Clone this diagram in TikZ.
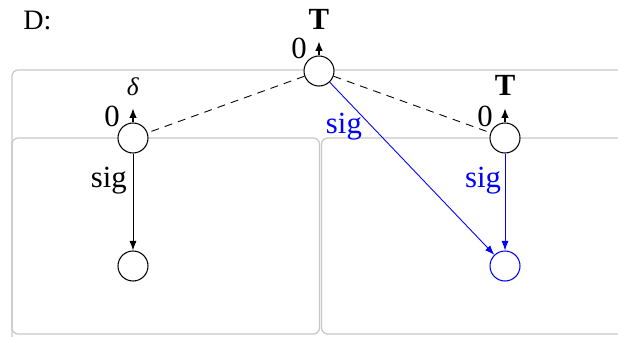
\documentclass[tikz,border=0pt]{standalone}
\usepackage{fontspec}
\setmainfont{Liberation Serif}
\usetikzlibrary{arrows.meta,positioning}
\tikzset{
  state/.style={circle,draw,fill=white,minimum size=0.6cm,inner sep=0pt,line width=0.6pt},
  frame/.style={draw=black!22,line width=0.7pt,rounded corners=3.5pt},
  tran/.style={-{Latex[length=1.9mm,width=1.4mm]},line width=0.5pt},
  stub/.style={-{Latex[length=1.9mm,width=1.5mm]},line width=0.6pt},
  link/.style={dashed,dash pattern=on 4.5pt off 3.5pt,line width=0.5pt},
  bigtext/.style={font=\fontsize{17.5}{21}\selectfont},
  smalltext/.style={font=\fontsize{14.5}{17}\selectfont},
}
\begin{document}
\begin{tikzpicture}[x=1cm,y=1cm]
\useasboundingbox (0,0) rectangle (12.36,6.72);
% frames
\begin{scope}
\clip (0,0) rectangle (12.36,6.72);
\draw[frame] (0.24,-1) rectangle (13.5,5.32);
\draw[frame] (0.24,0.04) rectangle (6.39,3.96);
\draw[frame] (6.43,0.04) rectangle (13.5,3.96);
\end{scope}
\node[font=\fontsize{16}{19}\selectfont,anchor=base west,inner sep=0pt] (dlbl) at (0.46,6.14) {D:};
% states
\node[state] (top) at (6.38,5.30) {};
\node[state] (left) at (2.66,3.96) {};
\node[state] (right) at (10.10,3.96) {};
\node[state] (botl) at (2.66,1.40) {};
\node[state,draw=blue] (botr) at (10.10,1.40) {};
% stubs with labels
\draw[stub] (top.north) -- ++(0,0.28) node[bigtext,anchor=base,yshift=0.24cm] (topt) {\textbf{T}};
\draw[stub] (left.north) -- ++(0,0.28) node[smalltext,anchor=base,yshift=0.26cm] (leftd) {\textit{δ}};
\draw[stub] (right.north) -- ++(0,0.28) node[bigtext,anchor=base,yshift=0.26cm] (rightt) {\textbf{T}};
\node[bigtext,anchor=base east,inner sep=0pt,xshift=-0.24cm,yshift=-0.07cm] (top0) at (top.north) {0};
\node[bigtext,anchor=base east,inner sep=0pt,xshift=-0.26cm,yshift=-0.08cm] (left0) at (left.north) {0};
\node[bigtext,anchor=base east,inner sep=0pt,xshift=-0.24cm,yshift=-0.08cm] (right0) at (right.north) {0};
% links
\draw[link] (top) -- (left);
\draw[link] (top) -- (right);
\draw[tran] (left) -- node[bigtext,left,pos=0.28] (sigl) {sig} (botl);
\draw[tran,blue] (right) -- node[bigtext,left,pos=0.28,inner sep=2pt] (sigr) {sig} (botr);
\draw[tran,blue] (top) -- node[bigtext,left=2pt,pos=0.255] (sigd) {sig} (botr);
\end{tikzpicture}
\end{document}
